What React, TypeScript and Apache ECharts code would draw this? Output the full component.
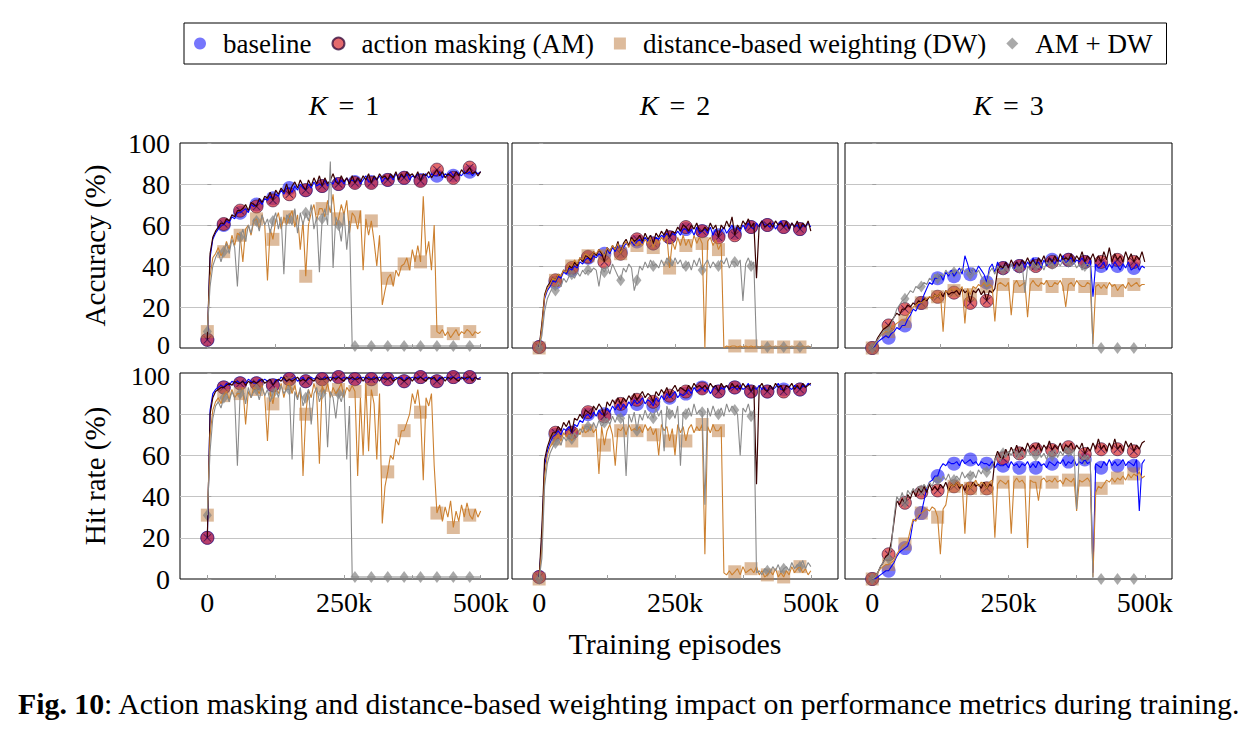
import React, { useEffect, useRef } from "react";
import * as echarts from "echarts";

// training episodes sampled every 5k (0 .. 500k); markers every 30k
const EPISODES: number[] = Array.from({ length: 101 }, (_, i) => i * 5000);
const MARK_STEP = 6;
const MARK_LAST = 96;

const X_LABELS = [0, 250000, 500000];
const X_TICKS = [0, 125000, 250000, 375000, 500000];

const COL_TITLES = ["1", "2", "3"];
const ROW_NAMES = ["Accuracy (%)", "Hit rate (%)"];
const SERIES_NAMES = ["baseline", "action masking (AM)", "distance-based weighting (DW)", "AM + DW"];

// ---------- K = 1, accuracy ----------
const BL_A1 = [4,
  44,53,56,58,60,60, 62,61,64,63,66,66, 67,68,66,70,69,70, 72,70,73,72,74,73,
  75,74,77,75,78,78, 76,79,77,80,78,77, 80,78,81,79,80,79, 82,79,81,80,83,80,
  82,80,83,81,82,81, 83,80,82,84,81,81, 83,82,84,81,83,82, 84,82,85,83,84,83,
  85,82,84,83,85,82, 84,85,83,85,84,84, 86,83,85,84,86,84, 86,85,84,86,85,86,
  84,86,85,86];
const AM_A1 = [4,
  46,54,57,59,61,60.5, 63,62,65,64,67,67, 68,70,67,71,70,69, 73,71,74,73,76,72,
  77,75,78,76,80,75, 79,81,78,82,79,77, 82,79,83,80,84,79, 83,80,82,85,81,80,
  84,81,83,80,84,80.5, 83,81,84,82,85,80.5, 84,82,85,83,84,82, 85,83,86,82,85,83,
  86,84,85,83,86,81.5, 85,84,86,83,85,87, 84,86,83,85,84,83, 86,84,87,85,86,88,
  85,86,84,86];
const DW_A1 = [8,
  35,44,46,49,45,47, 52,48,55,50,56,55, 42,58,60,55,62,63, 58,65,60,33,58,53,
  62,66,58,64,60,64, 67,59,65,48,62,35, 60,66,70,62,68,68, 64,72,66,75,60,63,
  70,65,72,56,66,64, 58,67,38,63,55,62, 52,40,55,21,28,34, 36,30,38,35,40,41,
  44,38,48,42,50,42, 74,45,52,38,60,8, 7,9,6,8,5,7, 9,6,8,7,9,8,
  6,8,7,8];
const AMDW_A1 = [8,
  30,40,44,47,42,47, 51,46,53,49,30,54, 58,52,60,56,63,62, 57,65,60,63,56,62,
  66,58,64,36,65,63, 60,68,56,66,60,66, 62,70,58,64,37,63, 68,60,91,39,64,60,
  52,66,48,62,1,1, 1,1,1,1,1,1, 1,1,1,1,1,1, 1,1,1,1,1,1,
  1,1,1,1,1,1, 1,1,1,1,1,1, 1,1,1,1,1,1, 1,1,1,1,1,1,
  1,1,1,1];

// ---------- K = 1, hit rate ----------
const BL_H1 = [20,
  82,90,92,93,94,93, 95,94,96,95,96,95, 96,95,97,96,95,95, 97,96,97,96,97,94,
  97,96,98,97,96,97, 97,98,96,97,98,96, 97,98,97,98,97,97, 98,97,98,97,98,98,
  97,98,97,98,97,97, 98,97,98,97,98,97, 98,97,98,97,98,97, 98,97,98,97,98,96,
  98,97,98,97,98,98, 97,98,97,98,97,96, 98,97,98,97,98,98, 97,98,97,98,97,98,
  97,98,97,98];
const AM_H1 = [20,
  80,88,91,92,93,93, 94,95,94,96,95,95, 96,94,96,95,96,95, 96,97,95,96,97,94,
  96,97,96,98,96,97, 96,97,98,96,97,96, 98,97,96,98,97,97, 97,98,96,98,97,98,
  97,96,98,97,98,97, 97,98,96,98,97,97, 97,98,96,98,97,97, 98,96,97,98,97,96,
  97,98,96,98,97,98, 97,96,98,97,98,96, 97,98,96,98,97,98, 97,96,98,97,98,98,
  96,98,97,97];
const DW_H1 = [31,
  70,82,86,88,85,89, 91,87,92,88,90,90, 93,75,91,88,93,92, 90,94,89,67,91,85,
  93,90,95,88,94,95, 90,94,88,92,50,80, 92,88,95,90,56,94, 90,95,88,93,90,92,
  95,88,93,91,94,91, 50,88,60,95,62,92, 85,58,90,27,45,52, 60,58,68,65,72,72,
  76,80,90,85,92,81, 48,88,84,90,55,32, 36,28,35,30,38,25, 33,28,36,30,37,31,
  29,34,30,33];
const AMDW_H1 = [31,
  62,78,84,86,83,88, 90,86,91,88,55,90, 92,85,93,88,91,92, 87,93,89,92,86,90,
  93,88,94,90,92,92, 58,91,87,93,84,88, 92,75,90,93,86,90, 92,64,91,88,78,90,
  86,92,58,84,1,1, 1,1,1,1,1,1, 1,1,1,1,1,1, 1,1,1,1,1,1,
  1,1,1,1,1,1, 1,1,1,1,1,1, 1,1,1,1,1,1, 1,1,1,1,1,1,
  1,1,1,1];

// ---------- K = 2, accuracy ----------
const BL_A2 = [0.5,
  10,24,28,30,33,32, 35,34,37,36,39,38, 40,39,42,41,43,44, 42,45,44,46,45,46,
  48,46,49,47,50,47, 49,51,50,52,50,52, 53,51,54,52,55,51, 54,53,55,54,56,54,
  56,55,57,55,58,58, 56,58,55,59,56,57, 58,56,59,55,58,55, 57,59,56,58,60,56,
  59,57,60,58,61,59, 58,61,59,62,60,60, 59,61,58,60,62,59, 60,58,61,59,60,58,
  60,59,61,59];
const AM_A2 = [0.5,
  12,26,30,32,34,33, 36,35,38,37,40,39, 42,40,44,42,45,44.5, 43,47,45,48,46,42,
  49,47,50,48,52,46, 51,53,50,54,52,53, 55,52,56,53,55,51, 56,54,57,55,58,54,
  57,56,59,57,60,59, 57,60,58,61,57,57, 59,57,61,58,60,54, 60,58,62,59,64,55,
  60,58,62,60,63,59, 61,34,60,62,59,60, 61,59,62,60,61,59, 62,58,61,59,62,58,
  61,59,62,57];
const DW_A2 = [0,
  10,25,29,31,34,33, 36,35,38,37,41,40, 43,41,44,43,46,45, 44,47,46,48,47,45,
  49,47,50,48,51,46, 50,52,49,53,51,50, 52,50,53,51,54,49, 53,51,54,52,55,39,
  52,48,54,50,55,50, 53,49,55,51,54,51, 0,52,54,50,53,48, 51,0,1,0.5,1,1,
  0.5,1,0.5,1,0.5,1, 0.5,1,0.5,1,0.5,0.5, 1,0.5,1,0.5,1,0.5, 1,0.5,1,0.5,1,0.5,
  1,0.5,1,0.5];
const AMDW_A2 = [0,
  6,18,24,27,30,28, 32,30,34,32,35,36, 34,37,35,38,36,38, 37,39,38,30,39,37,
  40,36,41,38,35,33, 39,37,41,39,28,33, 40,38,42,39,43,40, 41,39,43,40,44,42,
  40,44,41,43,39,40, 42,38,43,40,44,38, 41,43,39,42,40,40, 43,41,44,39,42,42,
  40,43,23,41,44,40, 42,0.5,0.5,0.5,0.5,0.5, 0.5,0.5,0.5,0.5,0.5,0.5, 0.5,0.5,0.5,0.5,0.5,0.5,
  0.5,0.5,0.5,0.5];

// ---------- K = 2, hit rate ----------
const BL_H2 = [1,
  20,55,62,66,69,70, 72,70,73,72,74,71, 75,74,77,76,79,80, 78,81,79,82,80,80,
  83,81,84,82,85,82, 85,83,86,84,87,85, 86,88,85,87,86,84, 88,86,89,87,90,88,
  89,91,88,90,89,90, 92,90,93,91,92,93, 91,93,90,92,94,91, 93,92,94,92,93,93,
  92,94,92,93,95,91, 93,92,94,92,93,91, 94,92,93,95,92,92, 94,93,92,94,93,92,
  94,93,95,94];
const AM_H2 = [1,
  25,58,64,68,71,71, 74,72,76,74,77,71, 78,77,80,78,82,81, 80,84,82,85,83,79,
  86,84,87,85,88,85, 88,86,89,87,90,87, 89,91,88,90,89,86, 91,89,92,90,93,89,
  92,94,91,93,92,91, 94,92,95,93,94,92.5, 94,92,95,93,94,91, 95,93,94,92,95,93,
  94,92,95,93,94,91, 94,46,93,95,92,91, 94,92,95,93,94,91, 94,93,95,92,94,92,
  95,93,94,95];
const DW_H2 = [0,
  15,50,60,64,66,68, 70,67,71,69,72,67, 71,73,70,74,71,72, 74,71,73,51,74,65,
  72,75,70,55,73,72, 74,70,75,72,73,72, 74,71,75,72,74,70, 73,60,75,72,74,67,
  73,60,75,71,74,67, 73,75,71,74,72,75, 12,74,71,75,72,72, 74,3,2,4,2,3.5,
  5,2,6,3,4,5, 3,6,2,4,1,2, 4,2,5,1,3,1, 4,2,6,3,5,6,
  3,5,2,4];
const AMDW_H2 = [0,
  10,45,56,61,64,66, 68,65,69,67,70,68, 71,69,73,71,74,74, 72,76,73,77,74,76,
  78,75,79,76,80,78, 77,50,80,76,81,72, 80,77,82,78,81,78, 83,79,82,62,84,80,
  82,78,84,55,81,80, 83,79,85,80,82,81, 36,83,79,84,80,80, 83,79,85,81,84,82,
  80,60,83,81,85,79, 82,3,4,2,5,4, 3,6,4,7,3,5, 6,4,8,5,7,6,
  9,5,8,6];

// ---------- K = 3, accuracy ----------
const BL_A3 = [0,
  1,3,4,5,6,5, 7,8,10,9,11,11, 14,16,19,18,21,22, 26,29,32,31,34,34,
  36,33,37,35,38,35, 37,39,36,45,41,36, 39,37,40,38,36,32, 39,41,37,42,38,39,
  42,39,41,38,42,40, 43,39,42,40,44,41, 42,39,43,40,44,43, 41,44,42,45,41,43,
  44,41,43,42,44,42, 40,43,25,41,39,40, 42,38,41,39,42,40, 38,41,39,42,38,39,
  41,38,40,39];
const AM_A3 = [0,
  2,5,7,9,10,11, 13,15,17,16,19,19, 21,20,22,21,23,22, 24,23,25,24,26,25,
  27,25,28,26,27,27, 28,26,29,27,28,22, 28,27,29,26,28,23, 28,27,29,38,40,39,
  42,39,43,40,42,40, 43,41,44,41,43,40, 44,42,45,41,44,42, 45,42,46,43,44,43,
  46,42,45,43,47,42, 45,43,46,42,45,42, 47,43,49,42,46,43, 45,42,47,43,46,42,
  45,43,47,42];
const DW_A3 = [0,
  2,4,6,7,8,8, 10,11,12,13,14,13, 16,18,20,21,22,22, 23,24,25,24,26,25,
  27,8,28,27,29,28, 29,28,30,12,29,26, 30,29,31,30,32,30, 31,30,13,31,32,31,
  30,32,16,31,33,30, 31,32,15,31,33,31, 30,32,31,33,30,30, 32,31,33,30,20,31,
  32,30,33,31,30,30, 32,31,2,30,31,29, 31,29,32,30,31,28, 30,31,29,32,30,31,
  32,30,31,31];
const AMDW_A3 = [0,
  2,4,6,8,9,8, 12,15,19,21,23,24, 26,28,27,30,29,30, 32,31,34,33,36,34,
  36,35,38,36,37,37, 38,36,39,37,38,36, 39,36,38,35,33,31, 37,39,36,40,38,38,
  40,37,41,38,39,39, 41,27,40,38,42,40, 39,41,38,42,40,41, 39,42,40,43,41,42,
  40,42,39,41,38,40, 41,40,0,0,0,0, 0,0,0,0,0,0, 0,0,0,0,0,0,
  0,0,0,0];

// ---------- K = 3, hit rate ----------
const BL_H3 = [0,
  0,1,2,3,4,4, 6,8,11,13,14,15, 16,20,28,29,30,32, 38,44,47,48,50,50,
  54,56,55,57,56,56, 57,55,58,56,57,58, 56,57,55,57,56,56, 55,57,54,56,55,55,
  56,54,57,55,56,54, 56,55,57,54,56,54, 57,55,56,54,57,56, 55,57,56,58,55,57,
  56,58,55,57,56,58, 56,57,3,56,55,54, 57,55,58,55,57,55, 56,58,55,57,56,55,
  58,33,56,58];
const AM_H3 = [0,
  1,3,6,8,11,12, 18,28,38,36,39,37, 41,39,43,40,44,42, 45,42,46,43,45,43,
  46,44,47,43,46,45, 47,44,46,43,46,44, 47,45,46,44,47,44, 46,45,58,62,59,58.6,
  63,60,64,61,65,61, 64,62,66,63,65,63, 66,62,65,63,67,62.6, 65,63,66,62,65,64,
  66,62,65,63,66,60.7, 64,62,66,63,68,63, 65,62,66,63,68,63, 65,62,67,64,66,62,
  65,63,66,67];
const DW_H3 = [0,
  1,3,5,6,7,7, 8,9,12,14,16,17, 18,24,29,28,31,32, 33,34,33,35,34,30,
  12,34,36,44,46,45, 47,45,46,22,47,44, 46,48,45,47,46,44, 47,48,20,46,48,47,
  46,48,22,47,49,47, 48,46,15,48,47,47, 38,48,49,47,48,47, 49,47,48,46,49,48,
  47,49,33,48,47,48, 49,47,1,42,45,44, 46,48,47,49,47,49, 48,50,48,51,49,51,
  50,52,49,50];
const AMDW_H3 = [0,
  1,3,6,8,10,10, 16,30,40,38,42,37, 43,41,44,42,45,43, 46,44,47,45,49,48,
  47,50,48,51,47,48, 50,48,52,49,51,50, 52,49,53,51,54,52, 53,55,58,60,57,61,
  59,62,60,63,58,61, 62,59,63,60,62,60, 63,59,61,58,62,60, 63,59,62,60,64,62,
  60,63,34,61,59,58, 60,58,0,0,0,0, 0,0,0,0,0,0, 0,0,0,0,0,0,
  0,0,0,0];

const PANELS = [
  { row: 0, col: 0, data: [BL_A1, AM_A1, DW_A1, AMDW_A1] },
  { row: 0, col: 1, data: [BL_A2, AM_A2, DW_A2, AMDW_A2] },
  { row: 0, col: 2, data: [BL_A3, AM_A3, DW_A3, AMDW_A3] },
  { row: 1, col: 0, data: [BL_H1, AM_H1, DW_H1, AMDW_H1] },
  { row: 1, col: 1, data: [BL_H2, AM_H2, DW_H2, AMDW_H2] },
  { row: 1, col: 2, data: [BL_H3, AM_H3, DW_H3, AMDW_H3] },
];

// layout / style (not data)
const COLS = [
  { left: 180, width: 328 },
  { left: 512, width: 326 },
  { left: 845, width: 327 },
];
const ROWS = [
  { top: 143, height: 205 },
  { top: 373, height: 206 },
];
const FONT = '"Liberation Serif", "Times New Roman", serif';
const LINE_COLORS = ["#0000ff", "#3a0000", "#cc8030", "#8a8a8a"];
const X_PATH =
  "path://M0,1.6 L1.6,0 L10,8.4 L18.4,0 L20,1.6 L11.6,10 L20,18.4 L18.4,20 L10,11.6 L1.6,20 L0,18.4 L8.4,10 Z";

const line = (vals: number[]) => EPISODES.map((x, i) => [x, vals[i]]);
const marks = (vals: number[]) =>
  EPISODES.map((x, i) => [x, vals[i]]).filter((_, i) => i % MARK_STEP === 0 && i <= MARK_LAST);

function buildOption() {
  const grid: any[] = [];
  const xAxis: any[] = [];
  const yAxis: any[] = [];
  const series: any[] = [];

  PANELS.forEach((p, gi) => {
    const c = COLS[p.col];
    const r = ROWS[p.row];
    grid.push({
      left: c.left,
      top: r.top,
      width: c.width,
      height: r.height,
      show: true,
      borderColor: "#000",
      borderWidth: 1,
      backgroundColor: "rgba(0,0,0,0)",
    });
    xAxis.push({
      gridIndex: gi,
      type: "value",
      min: -50000,
      max: 550000,
      axisLine: { show: false },
      splitLine: { show: false },
      axisTick: {
        show: true,
        inside: true,
        length: 4,
        customValues: X_TICKS,
        lineStyle: { color: "#a0a0a0" },
      },
      axisLabel: {
        show: p.row === 1,
        customValues: X_LABELS,
        formatter: (v: number) => (v === 0 ? "0" : v / 1000 + "k"),
        fontFamily: FONT,
        fontSize: 28,
        color: "#000",
        margin: 9,
      },
    });
    yAxis.push({
      gridIndex: gi,
      type: "value",
      min: 0,
      max: 100,
      interval: 20,
      axisLine: { show: false },
      axisTick: { show: true, inside: true, length: 4, lineStyle: { color: "#a0a0a0" } },
      splitLine: {
        show: true,
        showMinLine: false,
        showMaxLine: false,
        lineStyle: { color: "#c4c4c4", width: 1 },
      },
      axisLabel: {
        show: p.col === 0,
        fontFamily: FONT,
        fontSize: 28,
        color: "#000",
        margin: 10,
        // the "0" of the upper row and the "100" of the lower row sit very close:
        // nudge them apart a few pixels
        formatter: (v: number) =>
          p.row === 0 && v === 0 ? "{lo|0}" : p.row === 1 && v === 100 ? "{hi|100}" : String(v),
        rich: {
          lo: { fontFamily: FONT, fontSize: 26, color: "#000", padding: [0, 0, 6, 0] },
          hi: { fontFamily: FONT, fontSize: 26, color: "#000", padding: [6, 0, 0, 0] },
        },
      },
    });

    const [bl, am, dw, amdw] = p.data;
    const common = { xAxisIndex: gi, yAxisIndex: gi, silent: true, animation: false };
    const lineS = (vals: number[], color: string, w: number) => ({
      ...common,
      type: "line",
      name: "_line",
      data: line(vals),
      showSymbol: false,
      symbol: "none",
      lineStyle: { color, width: w },
      itemStyle: { color },
      clip: true,
    });

    series.push(lineS(bl, LINE_COLORS[0], 1.1));
    series.push({
      ...common,
      type: "scatter",
      name: SERIES_NAMES[0],
      data: marks(bl),
      symbol: "circle",
      symbolSize: 14,
      itemStyle: { color: "rgba(10,10,250,0.7)" },
    });
    series.push(lineS(am, LINE_COLORS[1], 1.2));
    series.push({
      ...common,
      type: "scatter",
      name: SERIES_NAMES[1],
      data: marks(am),
      symbol: "circle",
      symbolSize: 13,
      itemStyle: { color: "rgba(215,35,40,0.85)", borderColor: "#3a1040", borderWidth: 0.8 },
    });
    series.push({
      ...common,
      type: "scatter",
      name: "_amx",
      data: marks(am),
      symbol: X_PATH,
      symbolSize: 8,
      itemStyle: { color: "#3a1050" },
    });
    series.push(lineS(dw, LINE_COLORS[2], 1.1));
    series.push({
      ...common,
      type: "scatter",
      name: SERIES_NAMES[2],
      data: marks(dw),
      symbol: "rect",
      symbolSize: 13,
      itemStyle: { color: "rgba(190,125,65,0.65)" },
    });
    series.push(lineS(amdw, LINE_COLORS[3], 1.1));
    series.push({
      ...common,
      type: "scatter",
      name: SERIES_NAMES[3],
      data: marks(amdw),
      symbol: "diamond",
      symbolSize: [9, 12],
      itemStyle: { color: "rgba(128,128,128,0.85)" },
    });
  });

  const colCenter = (i: number) => COLS[i].left + COLS[i].width / 2;
  const rowCenter = (i: number) => ROWS[i].top + ROWS[i].height / 2;

  const graphic: any[] = [];
  COL_TITLES.forEach((k, i) => {
    graphic.push({
      type: "text",
      x: colCenter(i),
      y: 105,
      silent: true,
      style: {
        text: "{i|K}{e|=}" + k,
        fontFamily: FONT,
        fontSize: 28,
        fill: "#000",
        align: "center",
        verticalAlign: "middle",
        rich: {
          i: { fontStyle: "italic", fontFamily: FONT, fontSize: 28 },
          e: { fontFamily: FONT, fontSize: 28, padding: [0, 11, 0, 11] },
        },
      },
    });
  });
  ROW_NAMES.forEach((n, i) => {
    graphic.push({
      type: "text",
      x: 95,
      y: rowCenter(i),
      rotation: Math.PI / 2,
      silent: true,
      style: {
        text: n,
        fontFamily: FONT,
        fontSize: 29,
        fill: "#000",
        align: "center",
        verticalAlign: "middle",
      },
    });
  });
  graphic.push({
    type: "text",
    x: 675,
    y: 643,
    silent: true,
    style: {
      text: "Training episodes",
      fontFamily: FONT,
      fontSize: 30,
      fill: "#000",
      align: "center",
      verticalAlign: "middle",
    },
  });
  graphic.push({
    type: "text",
    x: 18,
    y: 703,
    silent: true,
    style: {
      text:
        "{b|Fig. 10}: Action masking and distance-based weighting impact on performance metrics during training.",
      fontFamily: FONT,
      fontSize: 29.8,
      fill: "#000",
      align: "left",
      verticalAlign: "middle",
      rich: { b: { fontWeight: "bold", fontFamily: FONT, fontSize: 29.8 } },
    },
  });

  return {
    animation: false,
    backgroundColor: "#fff",
    grid,
    xAxis,
    yAxis,
    series,
    graphic,
    legend: {
      left: 184,
      top: 23,
      padding: [7, 14, 7, 10],
      borderColor: "#000",
      borderWidth: 1,
      itemWidth: 12,
      itemHeight: 12,
      itemGap: 20,
      selectedMode: false,
      textStyle: { fontFamily: FONT, fontSize: 27, color: "#000", padding: [0, 0, 0, 12] },
      data: [
        { name: SERIES_NAMES[0], icon: "circle" },
        { name: SERIES_NAMES[1], icon: "circle" },
        { name: SERIES_NAMES[2], icon: "rect" },
        { name: SERIES_NAMES[3], icon: "diamond" },
      ],
    },
  };
}

export default function App() {
  const ref = useRef<HTMLDivElement>(null);
  useEffect(() => {
    if (!ref.current) return;
    const chart = echarts.init(ref.current, undefined, { renderer: "svg" });
    chart.setOption(buildOption() as any);
    return () => chart.dispose();
  }, []);
  return (
    <div
      ref={ref}
      style={{ position: "absolute", left: 0, top: 0, width: 1258, height: 735, background: "#fff" }}
    />
  );
}
